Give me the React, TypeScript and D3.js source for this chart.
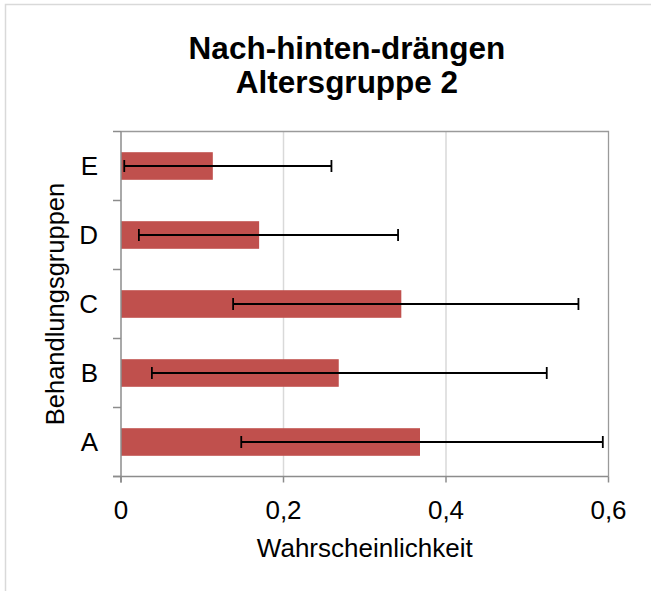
import React from "react";
import * as d3 from "d3";

const categories = ["A", "B", "C", "D", "E"];
const values = [0.368, 0.268, 0.345, 0.17, 0.113];
const lower = [0.148, 0.038, 0.138, 0.022, 0.004];
const upper = [0.593, 0.524, 0.563, 0.341, 0.259];
const xTicks = [0, 0.2, 0.4, 0.6];
const xTickLabels = ["0", "0,2", "0,4", "0,6"];
const titleLines = ["Nach-hinten-drängen", "Altersgruppe 2"];

const W = 651, H = 591;
const plot = { left: 121, right: 608.5, top: 131.5, bottom: 476.5 };
const font = "Liberation Sans, Arial, sans-serif";

export default function App() {
  const x = d3.scaleLinear().domain([0, 0.6]).range([plot.left, plot.right]);
  const y = d3.scaleBand().domain([...categories].reverse()).range([plot.top, plot.bottom]).paddingInner(0.6).paddingOuter(0.3);
  const band = d3.scaleBand().domain([...categories].reverse()).range([plot.top, plot.bottom]);
  const bounds = band.domain().map((_, i) => plot.top + i * band.step());
  bounds.push(plot.bottom);
  const cx = (plot.left + plot.right) / 2;
  return (
    <svg width={W} height={H} style={{ position: "absolute", left: 0, top: 0, display: "block" }}>
      <rect x={0} y={0} width={W} height={H} fill="#fff" />
      <path d={`M5.5,${H} V4.5 H${W}`} fill="none" stroke="#D9D9D9" strokeWidth={1.5} />
      {titleLines.map((t, i) => (
        <text key={t} x={347} y={59 + i * 34} textAnchor="middle" fontFamily={font} fontWeight="bold" fontSize={31.5} fill="#000">{t}</text>
      ))}
      {xTicks.slice(1, 3).map((t) => (
        <line key={t} x1={x(t)} x2={x(t)} y1={plot.top} y2={plot.bottom} stroke="#D9D9D9" strokeWidth={1.5} />
      ))}
      <path d={`M${plot.left},${plot.top} H${plot.right} V${plot.bottom}`} fill="none" stroke="#9A9A9A" strokeWidth={1.3} />
      {categories.map((c, i) => (
        <rect key={c} x={x(0)} y={y(c)} width={x(values[i]) - x(0)} height={y.bandwidth()} fill="#C0504D" />
      ))}
      {categories.map((c, i) => {
        const cy = (y(c) as number) + y.bandwidth() / 2;
        return (
          <g key={"e" + c} stroke="#000" strokeWidth={1.8}>
            <line x1={x(lower[i])} x2={x(upper[i])} y1={cy} y2={cy} />
            <line x1={x(lower[i])} x2={x(lower[i])} y1={cy - 6} y2={cy + 6} />
            <line x1={x(upper[i])} x2={x(upper[i])} y1={cy - 6} y2={cy + 6} />
          </g>
        );
      })}
      <g stroke="#8C8C8C" strokeWidth={1.5}>
        <line x1={plot.left} x2={plot.left} y1={plot.top} y2={plot.bottom + 6} />
        <line x1={plot.left - 8} x2={plot.right} y1={plot.bottom} y2={plot.bottom} />
        {bounds.map((b, i) => (
          <line key={"yt" + i} x1={plot.left - 8} x2={plot.left} y1={b} y2={b} />
        ))}
        {xTicks.map((t) => (
          <line key={"xt" + t} x1={x(t)} x2={x(t)} y1={plot.bottom} y2={plot.bottom + 6} />
        ))}
      </g>
      {xTicks.map((t, i) => (
        <text key={"xl" + t} x={x(t)} y={519} textAnchor="middle" fontFamily={font} fontSize={26} fill="#000">{xTickLabels[i]}</text>
      ))}
      {categories.map((c) => (
        <text key={"yl" + c} x={98} y={(y(c) as number) + y.bandwidth() / 2 + 9} textAnchor="end" fontFamily={font} fontSize={26} fill="#000">{c}</text>
      ))}
      <text x={cx} y={557} textAnchor="middle" fontFamily={font} fontSize={26} fill="#000">Wahrscheinlichkeit</text>
      <text transform={`translate(64,${(plot.top + plot.bottom) / 2}) rotate(-90)`} textAnchor="middle" fontFamily={font} fontSize={25.5} fill="#000">Behandlungsgruppen</text>
    </svg>
  );
}
